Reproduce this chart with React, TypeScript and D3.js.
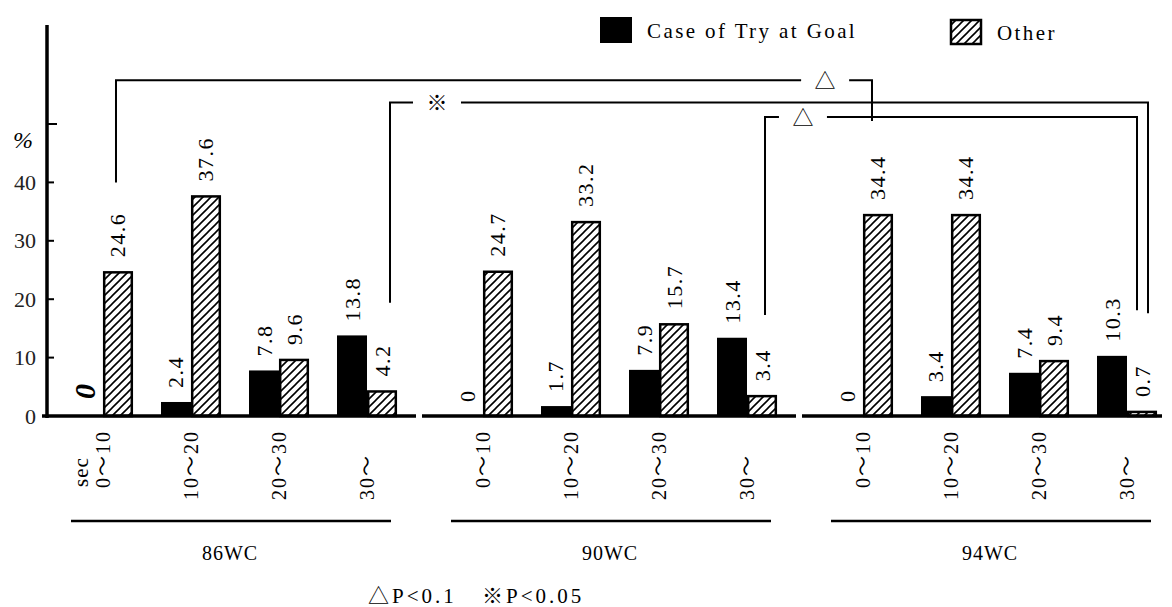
import * as d3 from 'd3';

// Passing time before shot — three World Cups
const groups = ['86WC', '90WC', '94WC'];
const categories = ['0〜10', '10〜20', '20〜30', '30〜'];
const series = ['goal', 'other'];
const seriesNames = ['Case of Try at Goal', 'Other'];

const goalValues = [
  [0, 2.4, 7.8, 13.8],
  [0, 1.7, 7.9, 13.4],
  [0, 3.4, 7.4, 10.3],
];
const otherValues = [
  [24.6, 37.6, 9.6, 4.2],
  [24.7, 33.2, 15.7, 3.4],
  [34.4, 34.4, 9.4, 0.7],
];

const yTicks = [0, 10, 20, 30, 40, 50];
const yTickLabels = ['0', '10', '20', '30', '40', ''];

// significance brackets: ends on the "other" bars, heights in % units
const brackets = [
  { from: ['86WC', '0〜10'], to: ['94WC', '0〜10'], level: 57.5, fromEnd: 40, toEnd: 50.5, mark: '△', markAt: 0.938 },
  { from: ['86WC', '30〜'], to: ['94WC', '30〜'], level: 53.7, fromEnd: 19.4, toEnd: 17.6, mark: '※', markAt: 0.062 },
  { from: ['90WC', '30〜'], to: ['94WC', '30〜'], level: 51.2, fromEnd: 17.3, toEnd: 18.1, mark: '△', markAt: 0.102 },
];
const footnotes = ['△P<0.1', '※P<0.05'];

const W = 1172;
const H = 607;
const FONT = '"Liberation Serif", "Noto Sans CJK JP", serif';
const NUDGE = [[-2, -6], [8, 6], [3, -5]]; // bracket end offsets so nested lines don't overlap

export default function App() {
  const y = d3.scaleLinear().domain([0, 50]).range([416, 124]);
  const xg = d3.scaleBand().domain(groups).range([45, 1185]).padding(0);
  const xc = d3.scalePoint().domain(categories).range([0, xg.bandwidth()]).padding(0.659);
  const xs = d3.scaleBand().domain(series).range([-30, 30]).padding(0);
  const axisX = 47;

  const catX = (g, c) => xg(g) + xc(c);
  const otherMid = (g, c) => catX(g, c) + xs('other') + xs.bandwidth() / 2;

  return (
    <svg width={W} height={H} style={{ position: 'absolute', left: 0, top: 0, background: '#fff' }}
      fontFamily={FONT}>
      <defs>
        <pattern id="hatch" patternUnits="userSpaceOnUse" width="8" height="8">
          <path d="M-2,2 L2,-2 M0,8 L8,0 M6,10 L10,6" stroke="#000" strokeWidth="1.6" />
        </pattern>
      </defs>

      {/* y axis */}
      <line x1={axisX} x2={axisX} y1={25} y2={418} stroke="#000" strokeWidth={3.5} />
      {yTicks.map((t, i) => (
        <g key={t}>
          <line x1={axisX} x2={axisX + (t === 50 ? 10 : 7)} y1={y(t)} y2={y(t)} stroke="#000" strokeWidth={2} />
          <text x={36} y={y(t)} textAnchor="end" dominantBaseline="central" fontSize={22} fill="#222">
            {yTickLabels[i]}
          </text>
        </g>
      ))}
      <text x={23} y={140} textAnchor="middle" dominantBaseline="central" fontSize={24} fontStyle="italic">%</text>

      {/* legend */}
      <rect x={600} y={17} width={32} height={26} fill="#000" />
      <text x={647} y={31} dominantBaseline="central" fontSize={21} letterSpacing={2.4}>{seriesNames[0]}</text>
      <rect x={951} y={20} width={30} height={24} fill="url(#hatch)" stroke="#000" strokeWidth={2.5} />
      <text x={997} y={33} dominantBaseline="central" fontSize={21} letterSpacing={2.4}>{seriesNames[1]}</text>

      {groups.map((g, gi) => {
        const x0 = xg(g);
        return (
          <g key={g}>
            {/* baseline segment */}
            <line x1={x0 - 3} x2={Math.min(x0 + xg.bandwidth() - 9, 1162)} y1={y(0)} y2={y(0)}
              stroke="#000" strokeWidth={3.5} />
            {categories.map((c, ci) => {
              const cx = catX(g, c);
              const gv = goalValues[gi][ci];
              const ov = otherValues[gi][ci];
              const gx = cx + xs('goal');
              const ox = cx + xs('other');
              const bw = xs.bandwidth();
              const zeroBig = gi === 0 && gv === 0;
              return (
                <g key={c}>
                  {gv > 0 && <rect x={gx} y={y(gv)} width={bw} height={y(0) - y(gv)} fill="#000" />}
                  <rect x={ox + 1.2} y={y(ov)} width={bw - 2.4} height={y(0) - y(ov)}
                    fill="url(#hatch)" stroke="#000" strokeWidth={2.5} />
                  <text transform={`translate(${gx + bw / 2 - (zeroBig ? 3 : 0)},${y(gv) - (zeroBig ? 17 : 14)}) rotate(-90)`}
                    dominantBaseline="central" fontSize={zeroBig ? 30 : 22}
                    fontWeight={zeroBig ? 'bold' : 'normal'} fontStyle={zeroBig ? 'italic' : 'normal'}
                    letterSpacing={zeroBig ? 0 : 1.5}>
                    {gv.toString()}
                  </text>
                  <text transform={`translate(${ox + bw / 2},${y(ov) - 15}) rotate(-90)`}
                    dominantBaseline="central" fontSize={22} letterSpacing={1.5}>
                    {ov.toString()}
                  </text>
                  {/* category label */}
                  {c.endsWith('〜') ? (
                    <text transform={`translate(${cx},500) rotate(-90)`} textAnchor="start"
                      dominantBaseline="central" fontSize={20} letterSpacing={2}>{c}</text>
                  ) : (
                    <text transform={`translate(${cx},430) rotate(-90)`} textAnchor="end"
                      dominantBaseline="central" fontSize={20} letterSpacing={2}>{c}</text>
                  )}
                  {gi === 0 && ci === 0 && (
                    <text transform={`translate(${cx - 22},487) rotate(-90)`} textAnchor="start"
                      dominantBaseline="central" fontSize={21} letterSpacing={1}>sec</text>
                  )}
                </g>
              );
            })}
            {/* group underline and name */}
            <line x1={x0 + 26} x2={x0 + 346} y1={521} y2={521} stroke="#000" strokeWidth={2.5} />
            <text x={x0 + 185} y={553} textAnchor="middle" dominantBaseline="central" fontSize={20}
              letterSpacing={1}>{g}</text>
          </g>
        );
      })}

      {/* significance brackets */}
      {brackets.map((b, i) => {
        const x1 = otherMid(b.from[0], b.from[1]) + NUDGE[i][0];
        const x2 = otherMid(b.to[0], b.to[1]) + NUDGE[i][1];
        const ly = y(b.level);
        const mx = x1 + (x2 - x1) * b.markAt;
        const gap = 24;
        return (
          <g key={i} fill="none" stroke="#000" strokeWidth={2}>
            <path d={`M${x1},${y(b.fromEnd)} V${ly} H${mx - gap}`} />
            <path d={`M${mx + gap},${ly} H${x2} V${y(b.toEnd)}`} />
            <text x={mx} y={ly + 1} textAnchor="middle" dominantBaseline="central" fontSize={21}
              fill="#000" stroke="none">{b.mark}</text>
          </g>
        );
      })}

      <text x={368} y={596} dominantBaseline="central" fontSize={21} letterSpacing={3}>{footnotes[0]}</text>
      <text x={482} y={596} dominantBaseline="central" fontSize={21} letterSpacing={3}>{footnotes[1]}</text>
    </svg>
  );
}
